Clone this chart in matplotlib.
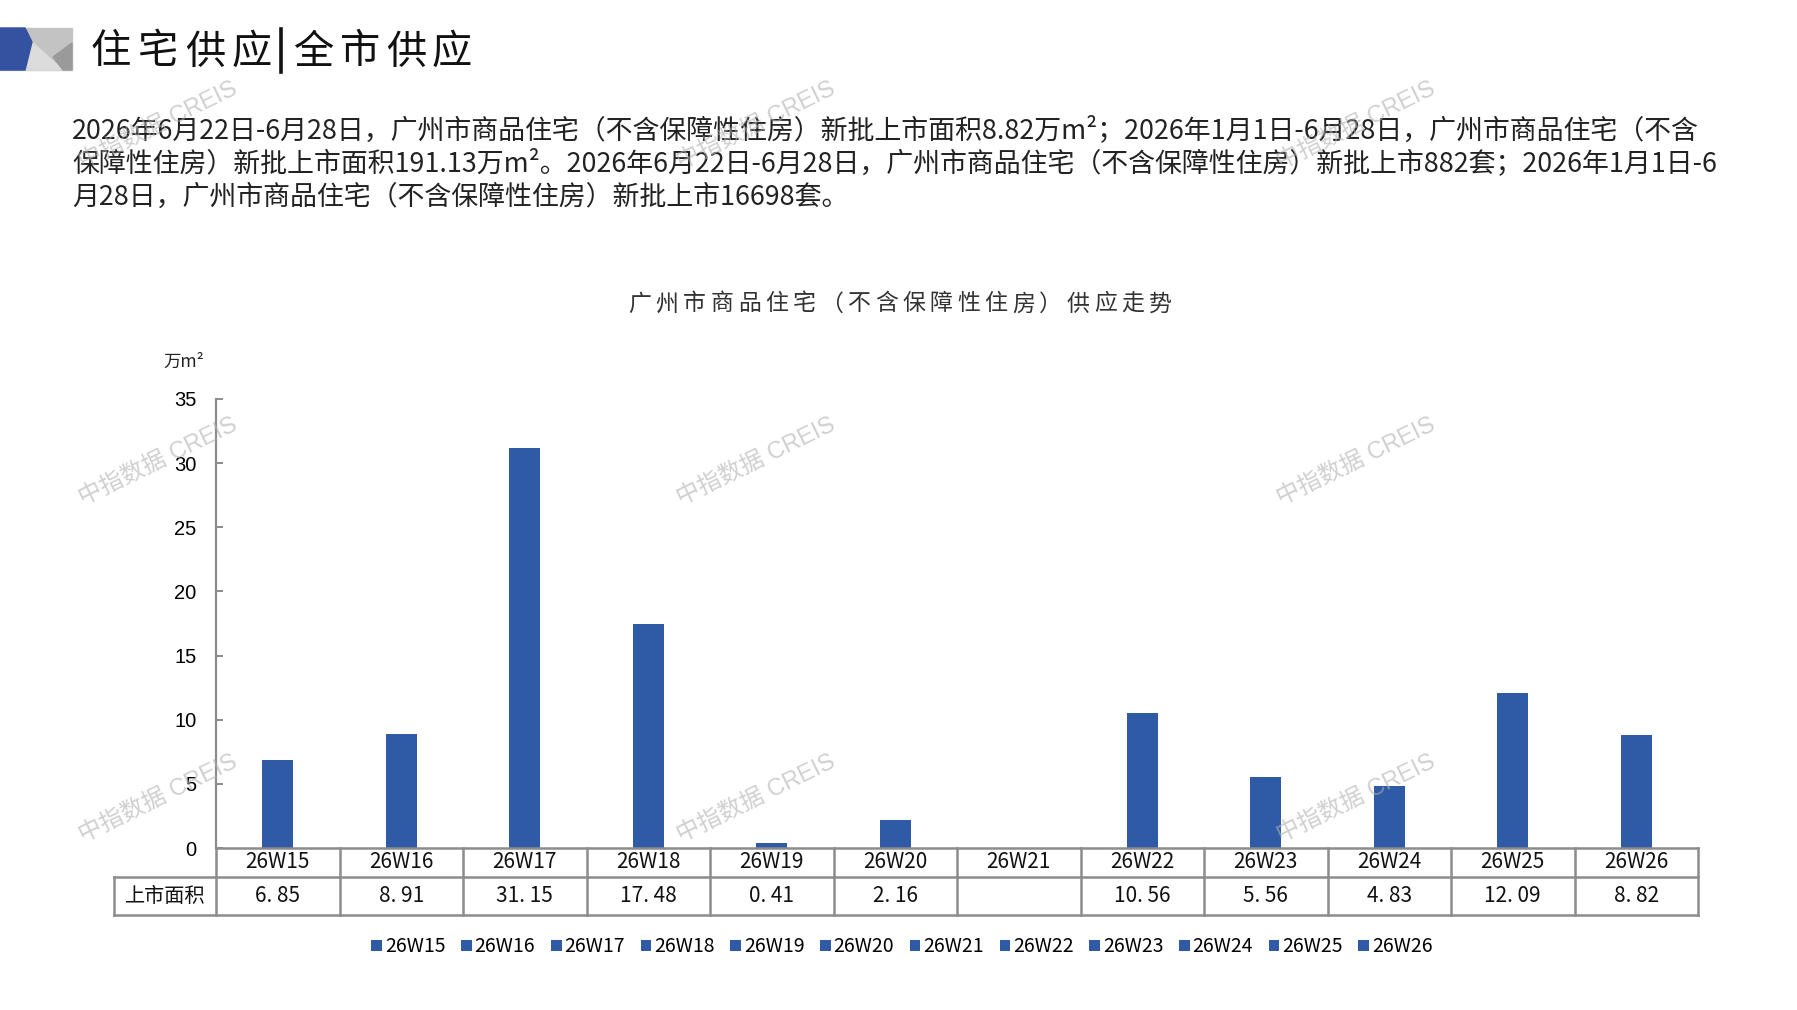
import matplotlib
matplotlib.use("Agg")
import matplotlib.pyplot as plt
from matplotlib.patches import Patch, Polygon
import numpy as np

plt.rcParams['font.family'] = ['Noto Sans CJK SC', 'DejaVu Sans']

# data
weeks = ['26W15', '26W16', '26W17', '26W18', '26W19', '26W20',
         '26W21', '26W22', '26W23', '26W24', '26W25', '26W26']
area = [6.85, 8.91, 31.15, 17.48, 0.41, 2.16, None, 10.56, 5.56, 4.83, 12.09, 8.82]
row_label = '上市面积'
y_ticks = [0, 5, 10, 15, 20, 25, 30, 35]

header_left = '住宅供应'
header_right = '全市供应'
chart_title = '广州市商品住宅（不含保障性住房）供应走势'
unit_label = '万m²'
paragraph = [
    '2026年6月22日-6月28日，广州市商品住宅（不含保障性住房）新批上市面积8.82万m²；2026年1月1日-6月28日，广州市商品住宅（不含',
    '保障性住房）新批上市面积191.13万m²。2026年6月22日-6月28日，广州市商品住宅（不含保障性住房）新批上市882套；2026年1月1日-6',
    '月28日，广州市商品住宅（不含保障性住房）新批上市16698套。',
]
watermark = '中指数据 CREIS'

BAR = '#2F5AA6'
GRID = '#8c8c8c'
W, H = 1797, 1010


def fx(px):
    return px / W


def fy(py):
    return 1 - py / H


def spaced(fig, x_first, y, text, step, **kw):
    # CJK text with wide letter spacing, one glyph at a time
    for k, ch in enumerate(text):
        fig.text(fx(x_first + k * step), fy(y), ch, ha='center', va='center', **kw)


fig = plt.figure(figsize=(W / 100, H / 100), dpi=100)

# header logo
logo = fig.add_axes([0, 0, 1, 1], zorder=-1)
logo.set_xlim(0, W)
logo.set_ylim(H, 0)
logo.axis('off')
logo.add_patch(Polygon([(0, 28), (72, 28), (72, 70), (0, 70)], color='#c3c3c3'))
logo.add_patch(Polygon([(25, 70), (32, 42), (63, 70)], color='#dcdcdc'))
logo.add_patch(Polygon([(72, 43), (72, 70), (63, 70), (53, 57)], color='#9a9a9a'))
logo.add_patch(Polygon([(0, 28), (25, 28), (32, 42), (25, 70), (0, 70)], color='#3552a0'))
logo.plot([281, 281], [29, 72], color='#111111', lw=2.6)

spaced(fig, 111, 52, header_left, 47, fontsize=29, color='#111111')
spaced(fig, 314, 52, header_right, 46, fontsize=29, color='#111111')

for i, line in enumerate(paragraph):
    fig.text(fx(72), fy(130 + i * 33.5), line, fontsize=19.4, va='center', ha='left',
             color='#222222')

spaced(fig, 626 + 13.7, 304, chart_title, 27.4, fontsize=16.5, color='#333333')
fig.text(fx(184), fy(362), unit_label, fontsize=12.5, va='center', ha='center', color='#222222')

# main bar axes
x0, x1, y0, y1 = 216, 1698, 848, 399
ax = fig.add_axes([fx(x0), fy(y0), fx(x1 - x0), (y0 - y1) / H])
xs = np.arange(len(weeks))
vals = np.array([np.nan if v is None else v for v in area])
ax.bar(xs, vals, width=0.25, color=BAR, zorder=2)
ax.set_xlim(-0.5, len(weeks) - 0.5)
ax.set_ylim(0, 35)
ax.set_yticks(y_ticks)
ax.set_xticks([])
for s in ['top', 'right']:
    ax.spines[s].set_visible(False)
ax.spines['left'].set_color(GRID)
ax.spines['left'].set_linewidth(1.6)
ax.spines['bottom'].set_color(GRID)
ax.spines['bottom'].set_linewidth(1.8)
ax.tick_params(axis='y', direction='in', length=5, width=1.4, color=GRID, pad=14,
               labelsize=14.5)
for lab in ax.get_yticklabels():
    lab.set_family(['Liberation Sans', 'DejaVu Sans'])

# data table under the axis
t_left, t_bottom = 114, 915
cat_w = (x1 - x0) / len(weeks)
xl = -0.5 - (x0 - t_left) / cat_w
tax = fig.add_axes([fx(t_left), fy(t_bottom), fx(x1 - t_left), (t_bottom - y0) / H])
tax.set_xlim(xl, len(weeks) - 0.5)
tax.set_ylim(0, 1)
tax.axis('off')
mid = (t_bottom - 877) / (t_bottom - y0)
lw = 1.8
tax.plot([xl, len(weeks) - 0.5], [mid, mid], color=GRID, lw=lw, clip_on=False)
tax.plot([xl, len(weeks) - 0.5], [0, 0], color=GRID, lw=lw, clip_on=False)
tax.plot([xl, xl], [0, mid], color=GRID, lw=lw, clip_on=False)
for i in range(len(weeks) + 1):
    tax.plot([i - 0.5, i - 0.5], [0, 1], color=GRID, lw=lw, clip_on=False)
for i, (wk, v) in enumerate(zip(weeks, area)):
    tax.text(i, (1 + mid) / 2, wk, ha='center', va='center', fontsize=15, color='#111111')
    if v is not None:
        tax.text(i, mid / 2, f'{v:.2f}'.replace('.', '. '), ha='center', va='center',
                 fontsize=15, color='#111111')
tax.text((xl - 0.5) / 2, mid / 2, row_label, ha='center', va='center', fontsize=14.5,
         color='#111111')

# legend
handles = [Patch(facecolor=BAR, edgecolor='none', label=wk) for wk in weeks]
fig.legend(handles=handles, loc='center', bbox_to_anchor=(fx(902), fy(947)), ncol=len(weeks),
           frameon=False, fontsize=14, handlelength=0.55, handleheight=0.55,
           handletextpad=0.15, columnspacing=0.8)

# watermarks
for wx in [158, 756, 1356]:
    for wy in [126, 462, 799]:
        fig.text(fx(wx), fy(wy), watermark, fontsize=17, rotation=26, ha='center', va='center',
                 color='#b0b0b0', alpha=0.6, zorder=10,
                 family=['Liberation Sans', 'Noto Sans CJK SC'])

fig.savefig('out.png', dpi=100)
